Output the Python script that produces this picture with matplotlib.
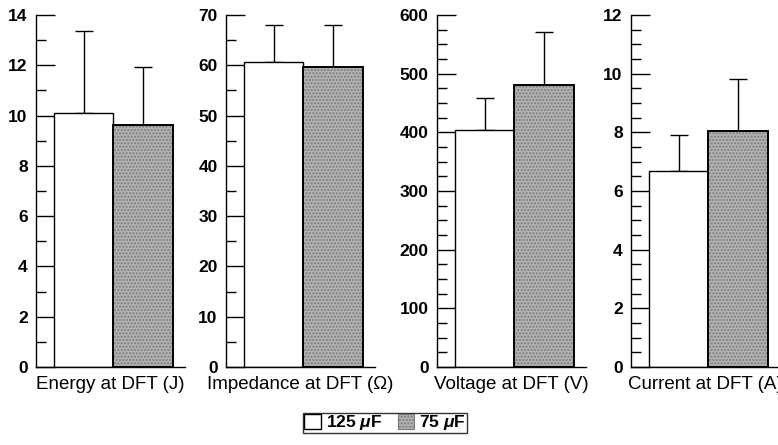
import numpy as np
import matplotlib.pyplot as plt
from matplotlib.patches import Patch
from matplotlib.ticker import MultipleLocator

plt.rcParams['font.family'] = ['Liberation Sans', 'DejaVu Sans']
plt.rcParams['mathtext.fontset'] = 'custom'
plt.rcParams['mathtext.it'] = 'Liberation Sans:italic:bold'
plt.rcParams['mathtext.rm'] = 'Liberation Sans:bold'

# values
labels = ['Energy at DFT (J)', 'Impedance at DFT (\u03a9)',
          'Voltage at DFT (V)', 'Current at DFT (A)']
mean_125 = [10.1, 60.6, 404, 6.68]
top_125 = [13.37, 68.1, 458, 7.9]
mean_75 = [9.61, 59.6, 480, 8.05]
top_75 = [11.92, 68.1, 571, 9.81]
ymax = [14, 70, 600, 12]
major = [2, 10, 100, 2]
minor = [1, 5, 25, 0.5]
series = ['125 $\\mu$F', '75 $\\mu$F']

W, H = 778, 445
fig = plt.figure(figsize=(W / 100, H / 100), dpi=100)

lefts = [36, 226, 437, 631]
ax_w = 149
bottom_px, top_px = 367, 15

gray = '#b2b2b2'
dots = '#7a7a7a'

for i in range(4):
    ax = fig.add_axes([lefts[i] / W, (H - bottom_px) / H,
                       ax_w / W, (bottom_px - top_px) / H])
    err_w = top_125[i] - mean_125[i]
    err_g = top_75[i] - mean_75[i]

    ax.bar(0, mean_125[i], width=1, color='white', edgecolor='black',
           linewidth=1, zorder=2)
    # stippled fill, then outline on top
    ax.bar(1, mean_75[i], width=1, color=gray, edgecolor=dots,
           hatch='.....', linewidth=0, zorder=2)
    ax.bar(1, mean_75[i], width=1, fill=False, edgecolor='black',
           linewidth=1.4, zorder=3)

    ax.errorbar([0, 1], [mean_125[i], mean_75[i]], yerr=[[0, 0], [err_w, err_g]],
                fmt='none', ecolor='black', elinewidth=1, capsize=6.5,
                capthick=1, zorder=1)

    ax.set_xlim(-0.8, 1.7)
    ax.set_ylim(0, ymax[i])
    ax.yaxis.set_major_locator(MultipleLocator(major[i]))
    ax.yaxis.set_minor_locator(MultipleLocator(minor[i]))
    ax.set_xticks([])
    ax.tick_params(axis='y', which='major', direction='in', length=14,
                   width=1, pad=6, labelsize=12.5)
    ax.tick_params(axis='y', which='minor', direction='in', length=7, width=1)
    for t in ax.get_yticklabels():
        t.set_fontweight('bold')
    for s in ['top', 'right']:
        ax.spines[s].set_visible(False)
    for s in ['left', 'bottom']:
        ax.spines[s].set_linewidth(1)
    # last label runs off the right edge, as in the original
    ax.set_xlabel(labels[i], fontsize=13.5, labelpad=6.5)
    ax.patch.set_alpha(0)

handles = [Patch(facecolor='white', edgecolor='black', linewidth=1),
           Patch(facecolor=gray, edgecolor=dots, hatch='.....', linewidth=0.8)]
leg = fig.legend(handles, series, loc='center', ncol=2,
                 bbox_to_anchor=(385 / W, 1 - 423 / H), frameon=True,
                 prop={'size': 12.5, 'weight': 'bold'},
                 handlelength=0.95, handleheight=0.95,
                 handletextpad=0.3, columnspacing=0.9, borderpad=0.05,
                 fancybox=False, borderaxespad=0)
leg.get_frame().set_edgecolor('black')
leg.get_frame().set_linewidth(1)

fig.savefig('out.png', dpi=100)
